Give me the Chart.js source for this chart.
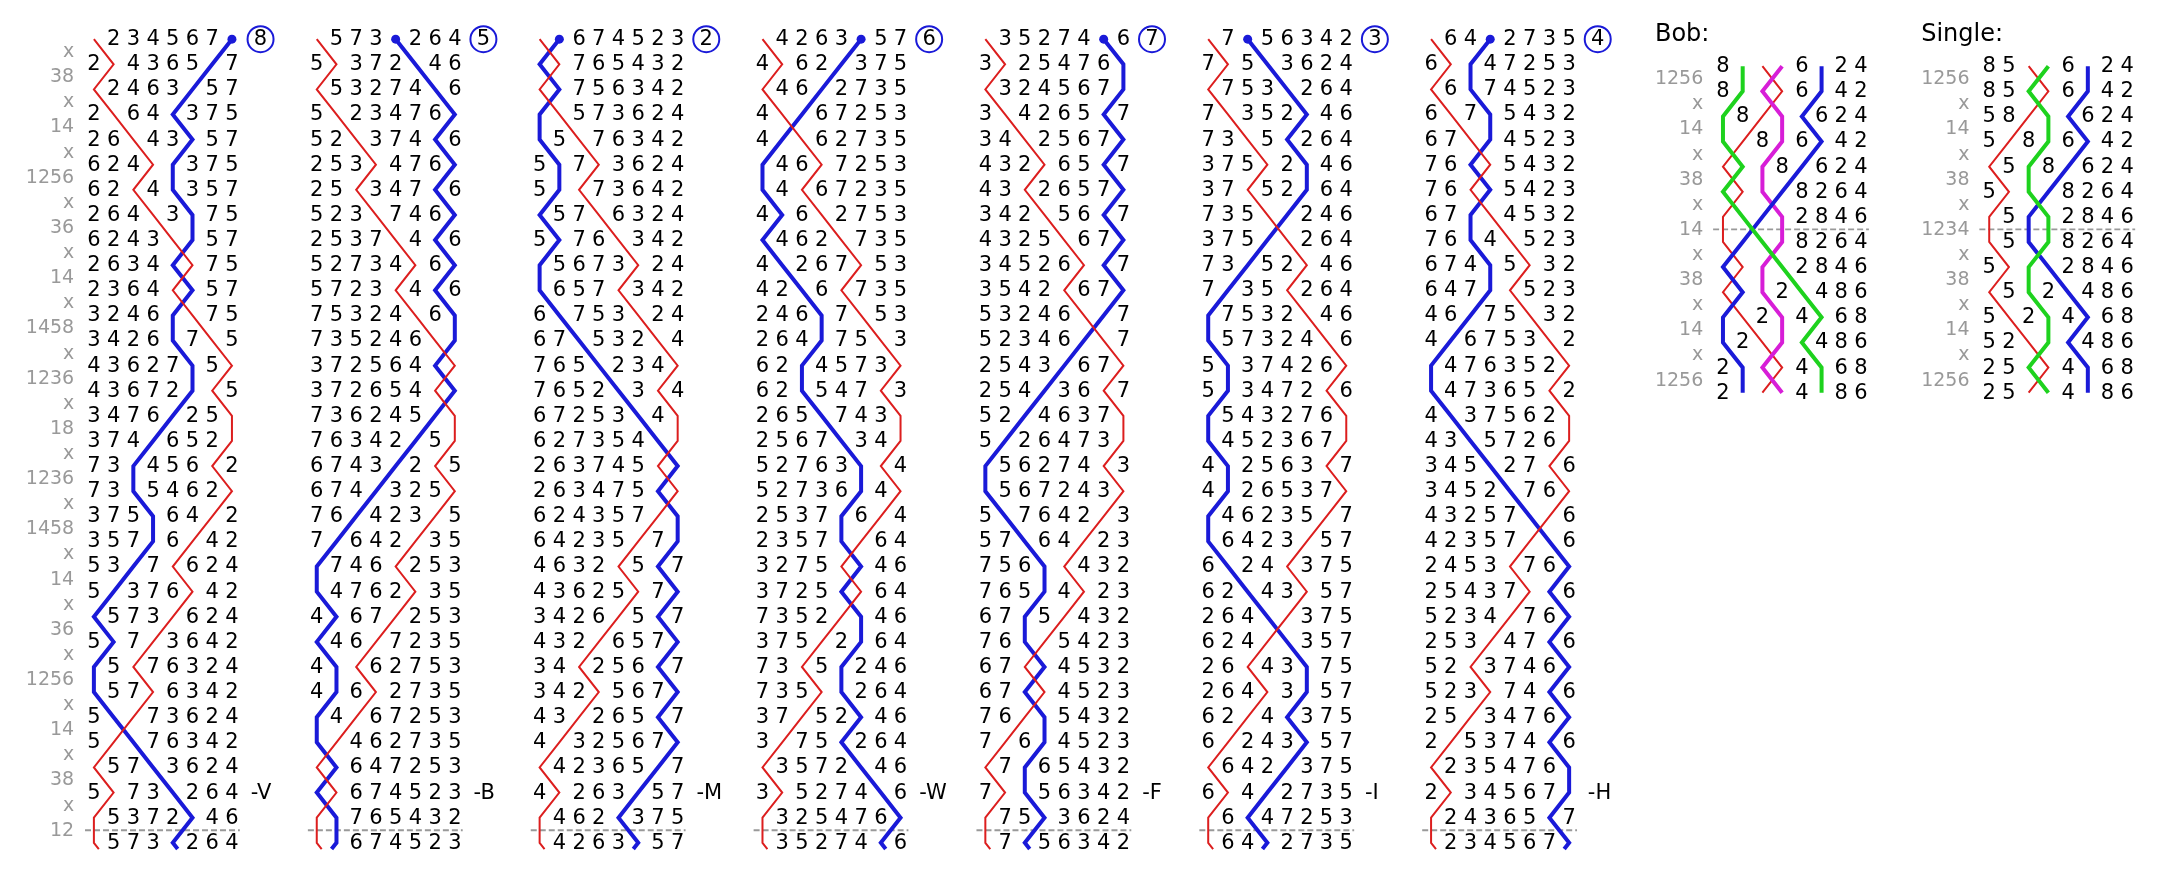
<!DOCTYPE html>
<html><head><meta charset="utf-8">
<script src="https://cdn.jsdelivr.net/npm/chart.js@4.4.1/dist/chart.umd.min.js"></script>
<style>html,body{margin:0;padding:0;background:#fff;overflow:hidden}#wrap{width:2162px;height:880px;position:relative}canvas{display:block}</style>
</head><body><div id="wrap"><canvas id="c" width="2162" height="880"></canvas></div>
<script>
// ---------- DATA ----------
const placeNotation = ["x","38","x","14","x","1256","x","36","x","14","x","1458","x","1236","x","18",
                       "x","1236","x","1458","x","14","x","36","x","1256","x","14","x","38","x","12"];
const leadHeads = ["12345678","15738264","18674523","14263857","13527486","17856342","16482735"];
const placeBells = ["8","5","2","6","7","3","4"];
const callLabels = ["-V","-B","-M","-W","-F","-I","-H"];
const lineBells = ["1","8"];                 // treble (red), tenor (blue)
const bobNotation = ["1256","x","14","x","38","x","14","x","38","x","14","x","1256"];
const singleNotation = ["1256","x","14","x","38","x","1234","x","38","x","14","x","1256"];
const panelStartRow = "85176324";
const bobLineBells = ["1","7","3","5"];
const singleLineBells = ["1","3","7"];
const panelTitles = ["Bob:","Single:"];

// ---------- STYLE / LAYOUT ----------
const W = 2162, H = 880, PX_POS = 20, ROW_PX = 26;
const Y_MIN = -25 / ROW_PX, Y_MAX = Y_MIN + H / ROW_PX;
const COL_X0 = 3, COL_STEP = 11.3;
const PANEL_X0 = [85.6, 99.1], PANEL_Y0 = 28 / ROW_PX;
const RED = "#dc1e1e", BLUE = "#1a1ad8", GREEN = "#1ed21e", MAGENTA = "#d71ed7", GRAY = "#999999";
const bobLineColors = [RED, MAGENTA, BLUE, GREEN];
const singleLineColors = [RED, BLUE, GREEN];
const FONT = "'DejaVu Sans', 'Noto Sans', sans-serif";

function change(row, pn) {
  const r = row.split('');
  const places = pn === 'x' ? [] : pn.split('').map(Number);
  let i = 0;
  while (i < r.length) {
    if (places.includes(i + 1)) { i++; continue; }
    if (i + 1 < r.length) { const t = r[i]; r[i] = r[i + 1]; r[i + 1] = t; }
    i += 2;
  }
  return r.join('');
}
function ring(start, notation) {
  const rows = [start];
  notation.forEach(pn => rows.push(change(rows[rows.length - 1], pn)));
  return rows;
}

const datasets = [];
function textSet(points, texts, font, color, align, order) {
  datasets.push({data: points, texts, textFont: font, textColor: color, textAlign: align || 'center',
    pointRadius: 0, showLine: false, order: order || 0});
}
function lineSet(points, color, width, order, extra) {
  datasets.push(Object.assign({data: points, showLine: true, borderColor: color, borderWidth: width,
    pointRadius: 0, fill: false, tension: 0, order}, extra || {}));
}

// ---------- main columns ----------
const digitFont = "21px " + FONT, labelFont = "19px " + FONT;
leadHeads.forEach((lh, k) => {
  const rows = ring(lh, placeNotation);
  const x0 = COL_X0 + k * COL_STEP;
  const nextRow = change(rows[rows.length - 1], placeNotation[0]);
  lineBells.forEach((b, bi) => {
    const pts = rows.map((row, r) => ({x: x0 + row.indexOf(b) + 1, y: r}));
    const last = pts[pts.length - 1];
    const nx = x0 + nextRow.indexOf(b) + 1;
    pts.push({x: last.x + 0.25 * (nx - last.x), y: last.y + 0.25});
    lineSet(pts, bi === 0 ? RED : BLUE, bi === 0 ? 2 : 4, bi === 0 ? 8 : 10);
    if (bi === 1) {
      datasets.push({data: [pts[0]], pointRadius: 4.5, pointBackgroundColor: BLUE, pointBorderWidth: 0, showLine: false, order: 5});
    }
  });
  const dp = [], dt = [];
  rows.forEach((row, r) => row.split('').forEach((b, i) => {
    if (!lineBells.includes(b)) { dp.push({x: x0 + i + 1, y: r}); dt.push(b); }
  }));
  textSet(dp, dt, digitFont, "#000");
  // circled place bell
  datasets.push({data: [{x: x0 + 9.45, y: 0}], pointRadius: 13, pointBorderColor: BLUE, pointBorderWidth: 2,
    pointBackgroundColor: "rgba(255,255,255,0)", showLine: false, order: 4,
    texts: [placeBells[k]], textFont: digitFont, textColor: "#000", textAlign: 'center'});
  // call label
  textSet([{x: x0 + 8.95, y: rows.length - 3}], [callLabels[k]], digitFont, "#000", 'left');
  // lead end dashed line
  lineSet([{x: x0 + 0.55, y: rows.length - 1.5}, {x: x0 + 8.4, y: rows.length - 1.5}], GRAY, 1.8, 30, {borderDash: [6, 3]});
});
// place notation labels
textSet(placeNotation.map((pn, i) => ({x: COL_X0, y: i + 0.5})), placeNotation, labelFont, GRAY, 'right');

// ---------- bob & single panels ----------
[[bobNotation, bobLineBells, bobLineColors], [singleNotation, singleLineBells, singleLineColors]].forEach((cfg, pi) => {
  const [notation, lbells, lcolors] = cfg;
  const rows = ring(panelStartRow, notation);
  const x0 = PANEL_X0[pi], y0 = PANEL_Y0;
  lbells.forEach((b, bi) => {
    lineSet(rows.map((row, r) => ({x: x0 + row.indexOf(b) + 1, y: y0 + r})), lcolors[bi], bi === 0 ? 2 : 4, 20 - bi);
  });
  const dp = [], dt = [];
  rows.forEach((row, r) => row.split('').forEach((b, i) => {
    if (!lbells.includes(b)) { dp.push({x: x0 + i + 1, y: y0 + r}); dt.push(b); }
  }));
  textSet(dp, dt, digitFont, "#000");
  textSet(notation.map((pn, i) => ({x: x0, y: y0 + i + 0.5})), notation, labelFont, GRAY, 'right');
  const callIdx = Math.floor(notation.length / 2);
  lineSet([{x: x0 + 0.5, y: y0 + callIdx + 0.5}, {x: x0 + 8.4, y: y0 + callIdx + 0.5}], GRAY, 1.8, 30, {borderDash: [6, 3]});
  textSet([{x: x0 - 2.45, y: -0.19}], [panelTitles[pi]], "24px " + FONT, "#000", 'left');
});

const textPlugin = {
  id: 'bellText',
  afterDatasetsDraw(chart) {
    const ctx = chart.ctx;
    chart.data.datasets.forEach((ds, i) => {
      if (!ds.texts) return;
      const meta = chart.getDatasetMeta(i);
      ctx.save();
      ctx.font = ds.textFont; ctx.fillStyle = ds.textColor;
      ctx.textAlign = ds.textAlign; ctx.textBaseline = 'middle';
      meta.data.forEach((el, j) => ctx.fillText(ds.texts[j], el.x, el.y + 0.5));
      ctx.restore();
    });
  }
};

new Chart(document.getElementById('c'), {
  type: 'scatter',
  data: {datasets},
  plugins: [textPlugin],
  options: {
    responsive: false, animation: false, events: [],
    layout: {padding: 0},
    plugins: {legend: {display: false}, tooltip: {enabled: false}, title: {display: false}},
    scales: {
      x: {type: 'linear', min: 0, max: W / PX_POS, display: false},
      y: {type: 'linear', min: Y_MIN, max: Y_MAX, reverse: true, display: false}
    }
  }
});
</script></body></html>
